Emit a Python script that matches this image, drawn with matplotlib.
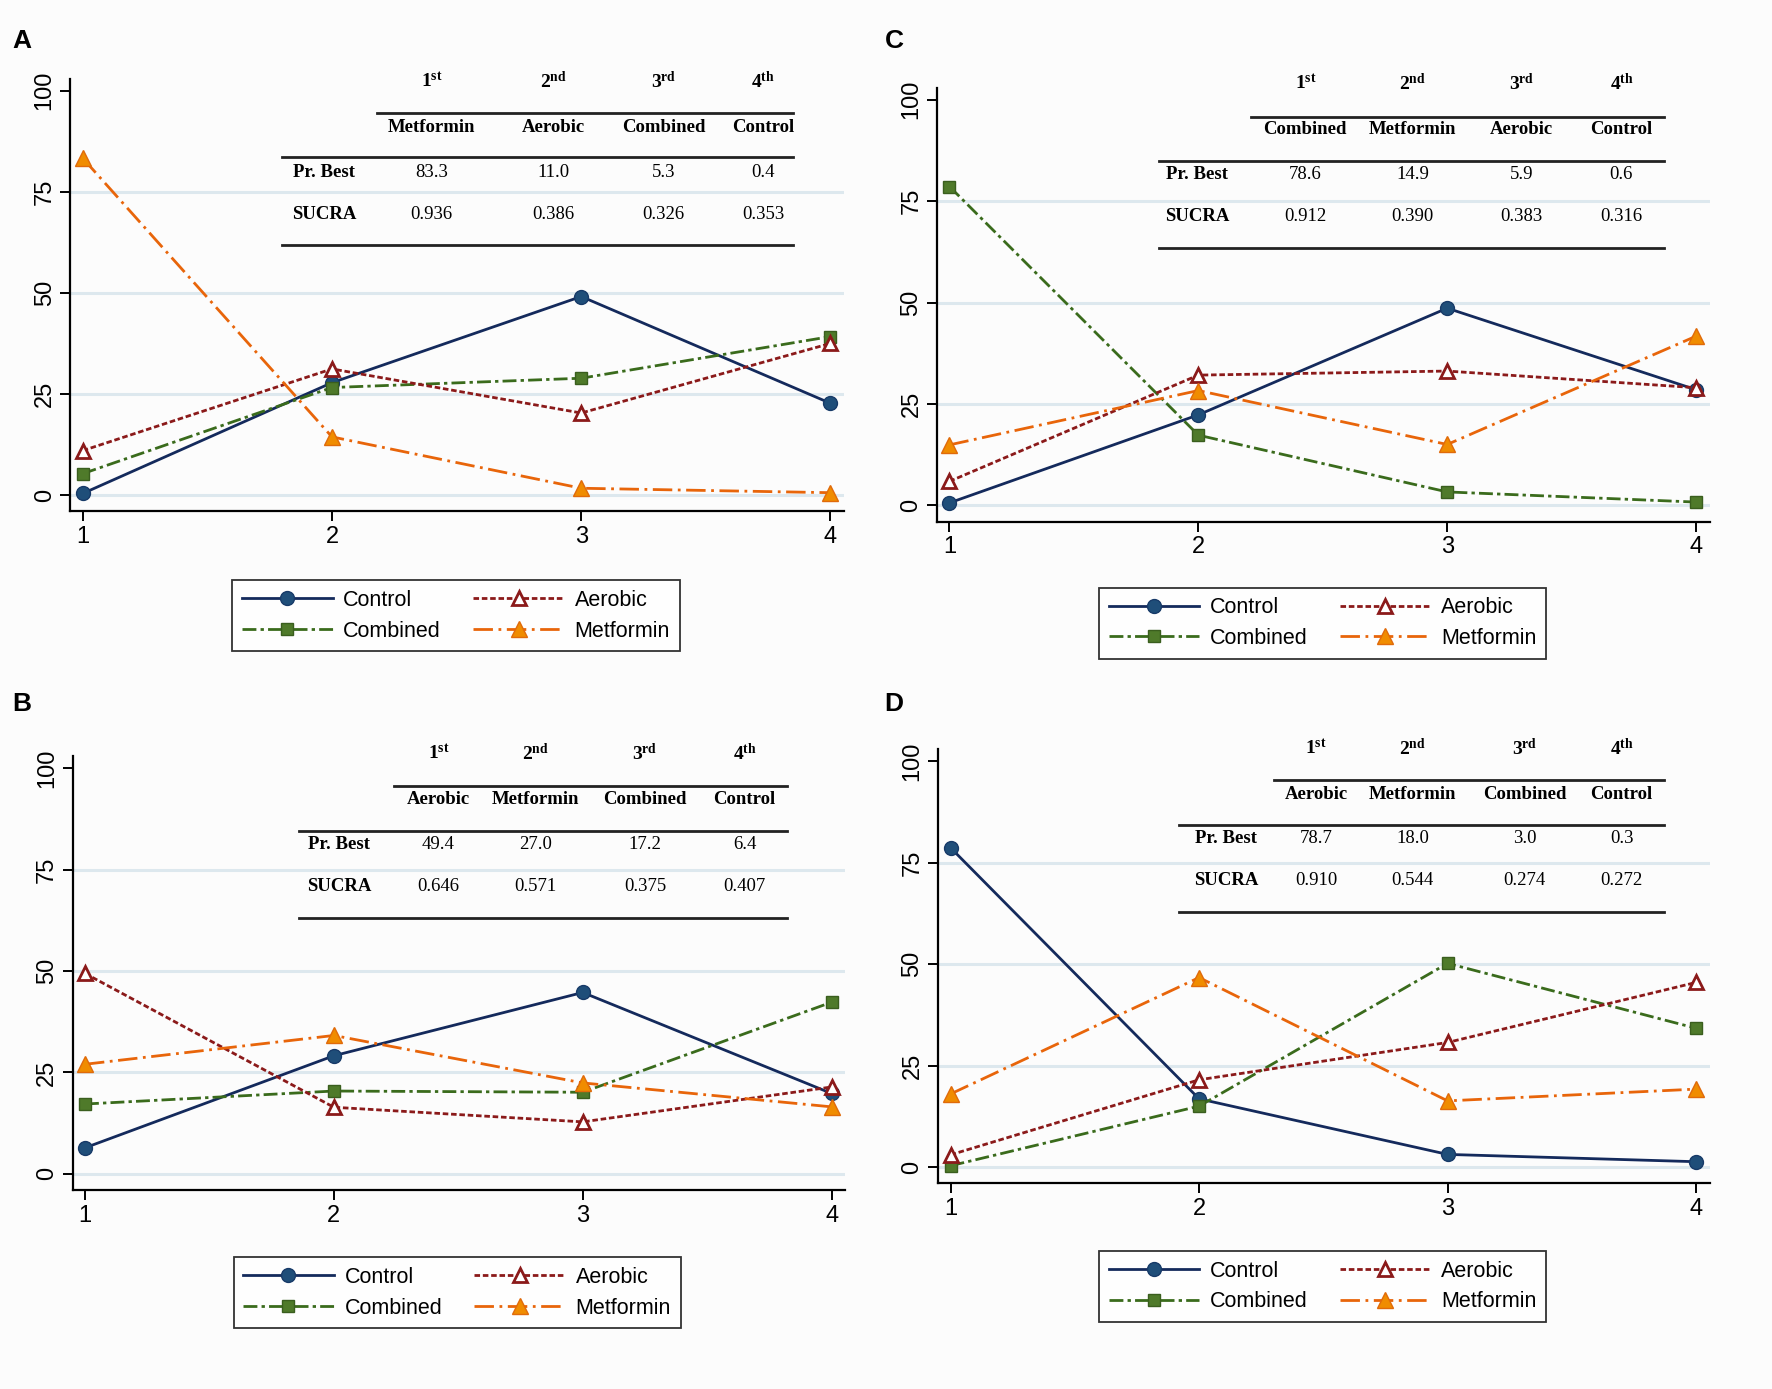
import matplotlib
matplotlib.use("Agg")
import matplotlib.pyplot as plt

plt.rcParams['font.family'] = ['Liberation Sans', 'DejaVu Sans']
plt.rcParams['mathtext.fontset'] = 'custom'
plt.rcParams['mathtext.rm'] = 'Liberation Serif'
plt.rcParams['mathtext.bf'] = 'Liberation Serif:bold'

# ---- data ----
ranks = [1, 2, 3, 4]
rank_labels = ['1st', '2nd', '3rd', '4th']
treatments = ['Control', 'Combined', 'Aerobic', 'Metformin']

# panel A
control_a = [0.4, 27.8, 49.1, 22.7]
combined_a = [5.3, 26.6, 28.9, 39.2]
aerobic_a = [11.0, 31.2, 20.3, 37.5]
metformin_a = [83.3, 14.4, 1.7, 0.6]
names_a = ['Metformin', 'Aerobic', 'Combined', 'Control']
prbest_a = ['83.3', '11.0', '5.3', '0.4']
sucra_a = ['0.936', '0.386', '0.326', '0.353']

# panel B
control_b = [6.4, 29.1, 44.7, 19.8]
combined_b = [17.2, 20.4, 20.1, 42.3]
aerobic_b = [49.4, 16.4, 12.8, 21.4]
metformin_b = [27.0, 34.1, 22.4, 16.5]
names_b = ['Aerobic', 'Metformin', 'Combined', 'Control']
prbest_b = ['49.4', '27.0', '17.2', '6.4']
sucra_b = ['0.646', '0.571', '0.375', '0.407']

# panel C
control_c = [0.6, 22.3, 48.6, 28.5]
combined_c = [78.6, 17.3, 3.3, 0.8]
aerobic_c = [5.9, 32.1, 33.1, 29.0]
metformin_c = [14.9, 28.3, 15.0, 41.7]
names_c = ['Combined', 'Metformin', 'Aerobic', 'Control']
prbest_c = ['78.6', '14.9', '5.9', '0.6']
sucra_c = ['0.912', '0.390', '0.383', '0.316']

# panel D
control_d = [78.7, 16.8, 3.1, 1.3]
combined_d = [0.3, 15.0, 50.2, 34.2]
aerobic_d = [3.0, 21.5, 30.7, 45.5]
metformin_d = [18.0, 46.7, 16.3, 19.2]
names_d = ['Aerobic', 'Metformin', 'Combined', 'Control']
prbest_d = ['78.7', '18.0', '3.0', '0.3']
sucra_d = ['0.910', '0.544', '0.274', '0.272']

# ---- styles ----
styles = {
    'Control': dict(color='#142a5c', ls='-', marker='o', ms=10, mfc='#1f4e79', mec='#173a68'),
    'Combined': dict(color='#3a6b1c', ls=(0, (5, 1.5, 1.2, 1.5)), marker='s', ms=9, mfc='#4f7a2a', mec='#3a5e1e'),
    'Aerobic': dict(color='#8b1a1a', ls=(0, (2, 1)), marker='^', ms=10, mfc='white', mec='#8b1a1a', mew=2),
    'Metformin': dict(color='#e8650a', ls=(0, (7, 2, 1, 2)), marker='^', ms=11, mfc='#f08c00', mec='#e06a0a'),
}

S = 1772 / 1564.0
W, H = 1772, 1389
XLIM = (0.95, 4.055)
YLIM = (-4, 103)

# layout (pixel refs measured on a 1564 wide copy)
panels = [
    dict(tag='A', x1=73, x4=733, y0=437, y100=80, lab=(19, 36), leg=(402.5, 543.5),
         series=[control_a, combined_a, aerobic_a, metformin_a], names=names_a, pr=prbest_a, su=sucra_a,
         cols=[2.40, 2.89, 3.33, 3.73], rows=[102.2, 91.0, 79.8, 69.5], lines=[94.4, 83.5, 61.9],
         lx=(2.18, 1.80, 3.85), labx=1.97),
    dict(tag='C', x1=838, x4=1497, y0=446, y100=88, lab=(789, 36), leg=(1167.5, 550),
         series=[control_c, combined_c, aerobic_c, metformin_c], names=names_c, pr=prbest_c, su=sucra_c,
         cols=[2.43, 2.86, 3.30, 3.70], rows=[103.9, 92.7, 81.6, 71.2], lines=[95.8, 84.9, 63.4],
         lx=(2.21, 1.84, 3.87), labx=1.995),
    dict(tag='B', x1=75, x4=734, y0=1036, y100=678, lab=(19, 621), leg=(403.5, 1141),
         series=[control_b, combined_b, aerobic_b, metformin_b], names=names_b, pr=prbest_b, su=sucra_b,
         cols=[2.42, 2.81, 3.25, 3.65], rows=[103.6, 92.2, 81.3, 70.9], lines=[95.5, 84.6, 63.1],
         lx=(2.24, 1.86, 3.82), labx=2.02),
    dict(tag='D', x1=839, x4=1497, y0=1030, y100=672, lab=(789, 621), leg=(1167.5, 1135.5),
         series=[control_d, combined_d, aerobic_d, metformin_d], names=names_d, pr=prbest_d, su=sucra_d,
         cols=[2.47, 2.86, 3.31, 3.70], rows=[103.1, 91.9, 81.0, 70.7], lines=[95.3, 84.4, 62.8],
         lx=(2.30, 1.92, 3.87), labx=2.11),
]

fig = plt.figure(figsize=(W / 100, H / 100), dpi=100, facecolor='#fcfcfc')

for p in panels:
    pxu = (p['x4'] - p['x1']) / 3.0
    pyu = (p['y0'] - p['y100']) / 100.0
    left = (p['x1'] - (1 - XLIM[0]) * pxu) * S
    right = (p['x4'] + (XLIM[1] - 4) * pxu) * S
    top = (p['y100'] - (YLIM[1] - 100) * pyu) * S
    bottom = (p['y0'] - YLIM[0] * pyu) * S
    ax = fig.add_axes([left / W, 1 - bottom / H, (right - left) / W, (bottom - top) / H])
    ax.set_facecolor('none')
    ax.set_xlim(*XLIM)
    ax.set_ylim(*YLIM)

    for yv in [0, 25, 50, 75]:
        ax.axhline(yv, color='#dde8ee', lw=2.2, zorder=0)

    handles = []
    for name, vals in zip(treatments, p['series']):
        st = styles[name]
        h, = ax.plot(ranks, vals, color=st['color'], ls=st['ls'], lw=2, marker=st['marker'],
                     ms=st['ms'], mfc=st['mfc'], mec=st['mec'], mew=st.get('mew', 1), zorder=3)
        handles.append(h)

    for s in ['top', 'right']:
        ax.spines[s].set_visible(False)
    for s in ['left', 'bottom']:
        ax.spines[s].set_linewidth(1.6)
    ax.set_xticks(ranks)
    ax.set_yticks([0, 25, 50, 75, 100])
    ax.tick_params(axis='both', length=7, width=1.4, labelsize=17, colors='black')
    ax.tick_params(axis='y', labelrotation=90)
    for t in ax.get_yticklabels():
        t.set_va('center')

    # ranking table
    ser = dict(family='Liberation Serif', fontsize=13.5)
    for cx, rl, nm, pv, sv in zip(p['cols'], rank_labels, p['names'], p['pr'], p['su']):
        ax.text(cx, p['rows'][0], r'$\mathbf{%s^{%s}}$' % (rl[0], rl[1:]), ha='center', va='center', fontsize=14)
        ax.text(cx, p['rows'][1], nm, ha='center', va='center', fontweight='bold', **ser)
        ax.text(cx, p['rows'][2], pv, ha='center', va='center', **ser)
        ax.text(cx, p['rows'][3], sv, ha='center', va='center', **ser)
    ax.text(p['labx'], p['rows'][2], 'Pr. Best', ha='center', va='center', fontweight='bold', **ser)
    ax.text(p['labx'], p['rows'][3], 'SUCRA', ha='center', va='center', fontweight='bold', **ser)
    x_hdr, x_row, x_end = p['lx']
    ax.plot([x_hdr, x_end], [p['lines'][0]] * 2, color='#222222', lw=2, clip_on=False)
    ax.plot([x_row, x_end], [p['lines'][1]] * 2, color='#222222', lw=2, clip_on=False)
    ax.plot([x_row, x_end], [p['lines'][2]] * 2, color='#222222', lw=2, clip_on=False)

    # legend
    lx, ly = p['leg']
    leg = fig.legend(handles, treatments, ncol=2, loc='center',
                     bbox_to_anchor=(lx * S / W, 1 - ly * S / H), fontsize=15.5,
                     frameon=True, fancybox=False, edgecolor='black', handlelength=4.2,
                     handletextpad=0.5, columnspacing=1.5, labelspacing=0.45,
                     borderpad=0.45)
    leg.get_frame().set_linewidth(1.3)

    fig.text(p['lab'][0] * S / W, 1 - p['lab'][1] * S / H, p['tag'], fontsize=19,
             fontweight='bold', ha='center', va='center')

fig.savefig('out.png', dpi=100, facecolor=fig.get_facecolor())
